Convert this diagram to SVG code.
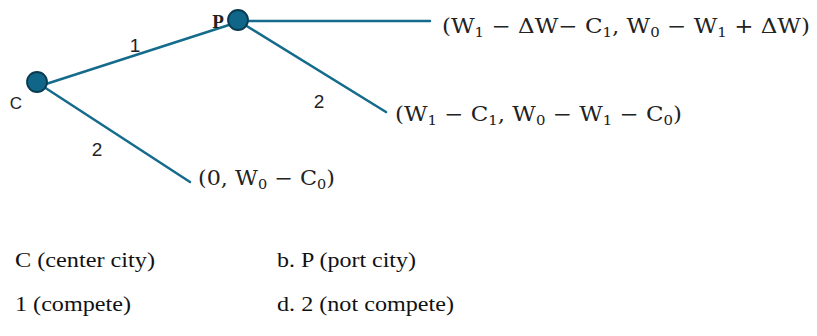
<svg xmlns="http://www.w3.org/2000/svg" width="817" height="336" viewBox="0 0 817 336">
<style>
.edge{stroke:#156b8c;stroke-width:2.5;fill:none;stroke-linecap:round}
.node{fill:#0f6689;stroke:#0b3a50;stroke-width:1.8}
.lab{font-family:"Liberation Sans","DejaVu Sans",sans-serif;font-size:19px;fill:#222}
.math{font-family:"DejaVu Serif","Liberation Serif",serif;font-size:20px;fill:#222}
.sub{font-size:13px}
.cap{font-family:"Liberation Serif","Times New Roman",serif;font-size:21px;fill:#111}
</style>
<rect width="817" height="336" fill="#fff"/>
<g id="connectors">
<line class="edge" x1="46" y1="84" x2="232" y2="24"/>
<line class="edge" x1="246" y1="21" x2="430" y2="21"/>
<line class="edge" x1="245" y1="25" x2="386" y2="112"/>
<line class="edge" x1="44" y1="87" x2="190" y2="182"/>
<text class="lab" x="135" y="52" text-anchor="middle">1</text>
<text class="lab" x="319" y="108" text-anchor="middle">2</text>
<text class="lab" x="97" y="156" text-anchor="middle">2</text>
</g>
<g id="node-C">
<circle class="node" cx="37" cy="82" r="10"/>
<text class="lab" x="16" y="109" text-anchor="middle" style="font-size:17px">C</text>
</g>
<g id="node-P">
<circle class="node" cx="238" cy="20" r="10"/>
<text x="218" y="28" text-anchor="middle" style="font-family:'Liberation Serif',serif;font-size:19px;font-weight:bold;fill:#222">P</text>
</g>
<g id="payoff-1">
<text class="math" x="442" y="33" textLength="368" lengthAdjust="spacingAndGlyphs">(W<tspan class="sub" dy="4">1</tspan><tspan dy="-4"> − ΔW− C</tspan><tspan class="sub" dy="4">1</tspan><tspan dy="-4">, W</tspan><tspan class="sub" dy="4">0</tspan><tspan dy="-4"> − W</tspan><tspan class="sub" dy="4">1</tspan><tspan dy="-4"> + ΔW)</tspan></text>
</g>
<g id="payoff-2">
<text class="math" x="395" y="121" textLength="287" lengthAdjust="spacingAndGlyphs">(W<tspan class="sub" dy="4">1</tspan><tspan dy="-4"> − C</tspan><tspan class="sub" dy="4">1</tspan><tspan dy="-4">, W</tspan><tspan class="sub" dy="4">0</tspan><tspan dy="-4"> − W</tspan><tspan class="sub" dy="4">1</tspan><tspan dy="-4"> − C</tspan><tspan class="sub" dy="4">0</tspan><tspan dy="-4">)</tspan></text>
</g>
<g id="payoff-3">
<text class="math" x="198" y="185" textLength="137" lengthAdjust="spacingAndGlyphs">(0, W<tspan class="sub" dy="4">0</tspan><tspan dy="-4"> − C</tspan><tspan class="sub" dy="4">0</tspan><tspan dy="-4">)</tspan></text>
</g>
<g id="legend">
<text class="cap" x="15" y="267" textLength="140" lengthAdjust="spacingAndGlyphs">C (center city)</text>
<text class="cap" x="277" y="267" textLength="139" lengthAdjust="spacingAndGlyphs">b. P (port city)</text>
<text class="cap" x="15" y="311" textLength="116" lengthAdjust="spacingAndGlyphs">1 (compete)</text>
<text class="cap" x="277" y="311" textLength="177" lengthAdjust="spacingAndGlyphs">d. 2 (not compete)</text>
</g>
</svg>
